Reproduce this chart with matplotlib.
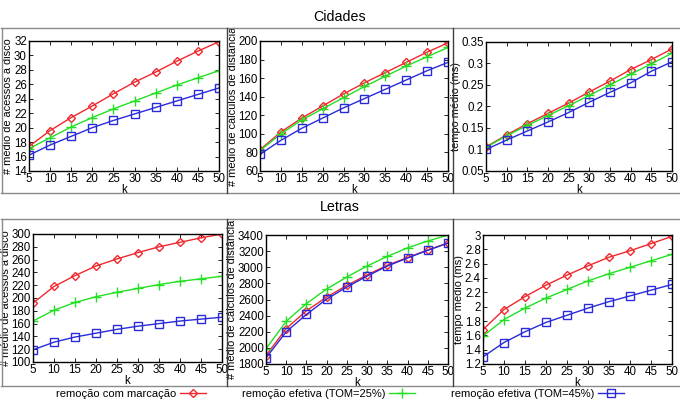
import numpy as np
import matplotlib.pyplot as plt
from matplotlib.lines import Line2D

plt.rcParams["font.family"] = ["Liberation Sans", "DejaVu Sans"]

# ------------------------------------------------------------
# Dados
# ------------------------------------------------------------
k = [5, 10, 15, 20, 25, 30, 35, 40, 45, 50]

# Cidades
cid_disco_marc = [17.4, 19.6, 21.4, 23.0, 24.7, 26.3, 27.7, 29.2, 30.6, 31.9]
cid_disco_25 = [17.1, 18.6, 20.1, 21.4, 22.6, 23.7, 24.8, 25.9, 26.9, 27.9]
cid_disco_45 = [16.2, 17.6, 18.8, 20.0, 21.0, 21.9, 22.8, 23.7, 24.6, 25.5]

cid_dist_marc = [83, 102, 117, 130, 143, 155, 166, 177, 188, 198]
cid_dist_25 = [82, 100, 115, 127, 139, 151, 162, 173, 183, 193]
cid_dist_45 = [78, 93, 106, 117, 128, 138, 148, 158, 168, 177]

cid_tempo_marc = [0.106, 0.134, 0.160, 0.184, 0.208, 0.234, 0.259, 0.286, 0.309, 0.334]
cid_tempo_25 = [0.105, 0.132, 0.156, 0.179, 0.202, 0.226, 0.250, 0.275, 0.299, 0.324]
cid_tempo_45 = [0.100, 0.122, 0.143, 0.164, 0.186, 0.210, 0.233, 0.255, 0.282, 0.304]

# Letras
let_disco_marc = [192, 218, 235, 250, 261, 271, 280, 287, 294, 300]
let_disco_25 = [164, 181, 193, 202, 209, 215, 221, 226, 230, 234]
let_disco_45 = [119, 131, 139, 145, 151, 156, 160, 164, 167, 170]

let_dist_marc = [1905, 2240, 2460, 2630, 2775, 2905, 3025, 3120, 3215, 3300]
let_dist_25 = [1990, 2330, 2550, 2730, 2880, 3015, 3135, 3240, 3325, 3400]
let_dist_45 = [1875, 2200, 2415, 2605, 2755, 2890, 3015, 3115, 3210, 3300]

let_tempo_marc = [1.68, 1.96, 2.14, 2.30, 2.44, 2.57, 2.69, 2.78, 2.88, 2.98]
let_tempo_25 = [1.59, 1.82, 1.98, 2.12, 2.24, 2.36, 2.46, 2.55, 2.64, 2.73]
let_tempo_45 = [1.30, 1.50, 1.65, 1.78, 1.88, 1.98, 2.07, 2.15, 2.23, 2.31]

series_labels = [
    "remoção com marcação",
    "remoção efetiva (TOM=25%)",
    "remoção efetiva (TOM=45%)",
]

ylabel_disco = "# médio de acessos a disco"
ylabel_dist = "# médio de cálculos de distância"
ylabel_tempo = "tempo médio (ms)"

# ------------------------------------------------------------
# Estilo
# ------------------------------------------------------------
W, H = 680, 404
RED = "#f0282d"
GREEN = "#22e022"
BLUE = "#2a2ad8"

styles = [
    dict(color=RED, marker="D", markersize=4.2, markerfacecolor="none", markeredgewidth=1.0),
    dict(color=GREEN, marker="+", markersize=6.5, markeredgewidth=1.0),
    dict(color=BLUE, marker="s", markersize=6, markerfacecolor="none", markeredgewidth=1.0),
]


def px_rect(x0, y0, x1, y1):
    return [x0 / W, 1 - y1 / H, (x1 - x0) / W, (y1 - y0) / H]


def draw_panel(ax, series, ylim, yticks, yticklabels, ylabel):
    for values, st in zip(series, styles):
        ax.plot(k, values, linewidth=1.0, **st)
    ax.set_xlim(5, 50)
    ax.set_ylim(*ylim)
    ax.set_xticks(k)
    ax.set_yticks(yticks)
    ax.set_yticklabels(yticklabels)
    ax.tick_params(direction="in", top=True, right=True, length=3, width=0.6,
                   labelsize=8.3, pad=1.5)
    ax.set_xlabel("k", fontsize=8.3, labelpad=-1)
    ax.set_ylabel(ylabel, fontsize=7.9, labelpad=0.5)
    for sp in ax.spines.values():
        sp.set_linewidth(1.0)


def fmt(v):
    return ("%g" % v)


fig = plt.figure(figsize=(W / 100, H / 100), dpi=100)

# caixas dos painéis
for y0, y1 in [(28, 193), (219, 386)]:
    fig.add_artist(Line2D([1 / W, 679 / W], [1 - y0 / H, 1 - y0 / H], color="#8a8a8a", lw=1.0))
    fig.add_artist(Line2D([1 / W, 679 / W], [1 - y1 / H, 1 - y1 / H], color="#8a8a8a", lw=1.0))
    for xv, c in [(1.5, "#8a8a8a"), (227, "#404040"), (453, "#404040")]:
        fig.add_artist(Line2D([xv / W, xv / W], [1 - y0 / H, 1 - y1 / H], color=c, lw=1.0))

fig.text(340 / W, 1 - 17 / H, "Cidades", ha="center", va="center", fontsize=10.3)
fig.text(340 / W, 1 - 207 / H, "Letras", ha="center", va="center", fontsize=10.3)

# Cidades
ax = fig.add_axes(px_rect(29, 41, 219, 171))
t = np.arange(14, 33, 2)
draw_panel(ax, [cid_disco_marc, cid_disco_25, cid_disco_45], (14, 32), t, [fmt(v) for v in t], ylabel_disco)

ax = fig.add_axes(px_rect(260, 41, 448, 171))
t = np.arange(60, 201, 20)
draw_panel(ax, [cid_dist_marc, cid_dist_25, cid_dist_45], (60, 200), t, [fmt(v) for v in t], ylabel_dist)

ax = fig.add_axes(px_rect(486, 42, 672, 171))
t = np.round(np.arange(0.05, 0.351, 0.05), 2)
draw_panel(ax, [cid_tempo_marc, cid_tempo_25, cid_tempo_45], (0.05, 0.35), t, [fmt(v) for v in t], ylabel_tempo)

# Letras
ax = fig.add_axes(px_rect(33, 234, 222, 362))
t = np.arange(100, 301, 20)
draw_panel(ax, [let_disco_marc, let_disco_25, let_disco_45], (100, 300), t, [fmt(v) for v in t], ylabel_disco)

ax = fig.add_axes(px_rect(266, 235, 448, 364))
t = np.arange(1800, 3401, 200)
draw_panel(ax, [let_dist_marc, let_dist_25, let_dist_45], (1800, 3400), t, [fmt(v) for v in t], ylabel_dist)

ax = fig.add_axes(px_rect(483, 235, 672, 364))
t = np.round(np.arange(1.2, 3.01, 0.2), 1)
draw_panel(ax, [let_tempo_marc, let_tempo_25, let_tempo_45], (1.2, 3.0), t, [fmt(v) for v in t], ylabel_tempo)

# legenda
handles = [Line2D([], [], linewidth=1.0, **st) for st in styles]
fig.legend(handles, series_labels, loc="center", bbox_to_anchor=(340 / W, 1 - 394 / H),
           ncol=3, markerfirst=False, frameon=False, fontsize=8,
           handlelength=2.3, handletextpad=0.3, columnspacing=3.3,
           borderpad=0, borderaxespad=0)

fig.savefig("out.png", dpi=100)
